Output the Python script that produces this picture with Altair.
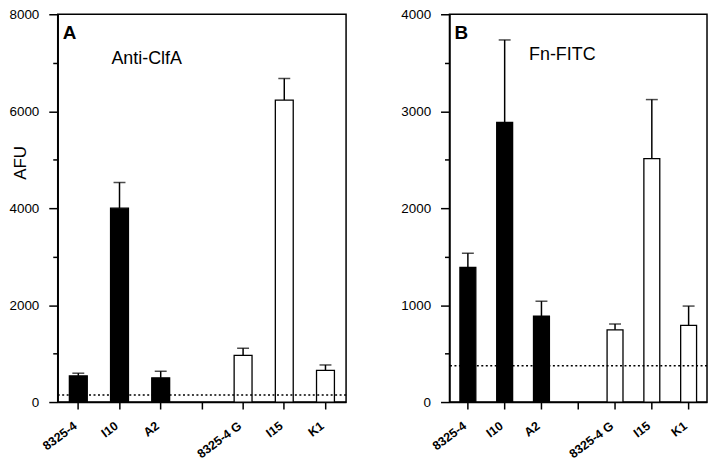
import altair as alt
import pandas as pd

# ---- data ----
slots = ["8325-4", "I10", "A2", " ", "8325-4 G", "I15", "K1"]
strains = ["8325-4", "I10", "A2", "8325-4 G", "I15", "K1"]
fills = ["black", "black", "black", "white", "white", "white"]

clfa_mean = [540, 4000, 500, 965, 6230, 655]
clfa_sd = [55, 530, 135, 145, 445, 110]
clfa_threshold = 145

fn_mean = [1390, 2885, 885, 745, 2510, 790]
fn_sd = [145, 850, 155, 60, 610, 200]
fn_threshold = 375

FONT = "Liberation Sans"


def panel(mean, sd, thr, ymax, tick_step, label_step, width, bar_size,
          letter, name, name_x, name_y, show_title):
    df = pd.DataFrame({"strain": strains, "mean": mean, "sd": sd, "fill": fills})
    df["top"] = df["mean"] + df["sd"]
    ticks = list(range(0, ymax + 1, tick_step))
    xaxis = alt.Axis(title=None, labelAngle=-37, labelAlign="right",
                     labelBaseline="middle", labelFontWeight="bold",
                     labelFontSize=12.5, labelPadding=15, labelOffset=-3, tickSize=7,
                     labelFont=FONT, labelLimit=200)
    xenc = alt.X("strain:N", scale=alt.Scale(domain=slots, paddingInner=0, paddingOuter=0),
                 axis=xaxis)
    yaxis = alt.Axis(values=ticks, grid=False,
                     labelExpr=f"datum.value % {label_step} == 0 ? datum.label : ''",
                     format="d", labelFontSize=13.5, labelFont=FONT,
                     labelPadding=10,
                     tickSize={"condition": {"test": f"datum.value % {label_step} != 0", "value": 5}, "value": 9},
                     title="AFU" if show_title else None,
                     titleFontSize=17, titleFontWeight="normal", titleFont=FONT,
                     titleX=-28, titleY=149, titleAngle=270)
    yenc = alt.Y("mean:Q", scale=alt.Scale(domain=[0, ymax], nice=False), axis=yaxis)

    base = alt.Chart(df)
    bars = base.mark_bar(size=bar_size, stroke="black", strokeWidth=1.3).encode(
        x=xenc, y=yenc, fill=alt.Fill("fill:N", scale=None))
    err = base.mark_rule(color="black", strokeWidth=1.5).encode(
        x=alt.X("strain:N", axis=xaxis), y="mean:Q", y2="top:Q")
    cap = base.mark_tick(color="black", thickness=1.5, size=12, orient="horizontal").encode(
        x=alt.X("strain:N", axis=xaxis), y="top:Q")
    thr_df = pd.DataFrame({"t": [thr]})
    line = alt.Chart(thr_df).mark_rule(color="black", strokeDash=[2, 2.5], strokeWidth=1.4).encode(
        y="t:Q")
    let = alt.Chart(thr_df).mark_text(text=letter, font=FONT, fontSize=19, fontWeight="bold",
                                      align="left", baseline="alphabetic").encode(
        x=alt.value(5), y=alt.value(25))
    nm = alt.Chart(thr_df).mark_text(text=name, font=FONT, fontSize=18,
                                     align="left", baseline="alphabetic").encode(
        x=alt.value(name_x), y=alt.value(name_y))
    return alt.layer(bars, line, err, cap, let, nm).properties(width=width, height=390)


a = panel(clfa_mean, clfa_sd, clfa_threshold, 8000, 1000, 2000, 290, 18,
          "A", "Anti-ClfA", 54, 50, True)
b = panel(fn_mean, fn_sd, fn_threshold, 4000, 500, 1000, 259, 16,
          "B", "Fn-FITC", 80, 46, False)

chart = alt.hconcat(a, b, spacing=52).properties(
    padding={"left": 0, "top": -3, "right": 0, "bottom": 0},
    background="white",
).configure_view(stroke="black", strokeWidth=1.5).configure_axis(
    domainColor="black", domainWidth=1.5, tickColor="black", tickWidth=1.5,
    labelColor="black", titleColor="black"
)

chart.save("out.html", embed_options={"renderer": "svg", "actions": False})
